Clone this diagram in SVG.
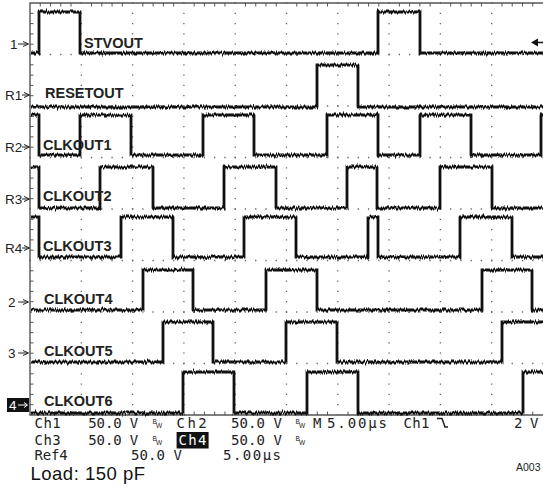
<svg xmlns="http://www.w3.org/2000/svg" width="543" height="494" viewBox="0 0 543 494">
<style>
.border{stroke:#555;stroke-width:1.4;fill:none}
.tick{stroke:#555;stroke-width:1}
.gh{stroke:#666;stroke-width:1.3;stroke-dasharray:1.3 8.96}
.gv{stroke:#666;stroke-width:1.3;stroke-dasharray:1.3 9}
.tr{fill:none;stroke:#111;stroke-width:2.8;stroke-linejoin:miter}
.lbl{font-family:"Liberation Sans",Arial,sans-serif;font-weight:bold;font-size:14.5px;fill:#222}
.mk{font-family:"Liberation Sans",Arial,sans-serif;font-size:13.5px;fill:#222}
.ro{font-family:"DejaVu Sans Mono","Liberation Mono",monospace;font-size:14px;fill:#222}
.bw{font-family:"Liberation Sans",Arial,sans-serif;font-size:6.5px;fill:#222}
.arr{stroke:#222;stroke-width:1;fill:none}
</style>
<defs>
<filter id="noise" x="-2%" y="-5%" width="104%" height="110%" color-interpolation-filters="sRGB">
<feTurbulence type="fractalNoise" baseFrequency="0.9 0.04" numOctaves="2" seed="7" result="t"/>
<feColorMatrix in="t" type="matrix" values="0 0 0 0 0.5  0 1 0 0 0  0 0 0 0 0  0 0 0 0 1" result="m"/>
<feDisplacementMap in="SourceGraphic" in2="m" scale="5" xChannelSelector="R" yChannelSelector="G"/>
</filter>
<marker id="ah" viewBox="0 0 6 6" refX="5" refY="3" markerWidth="6" markerHeight="6" markerUnits="userSpaceOnUse" orient="auto">
<path d="M0,0.5 L5.5,3 L0,5.5" fill="none" stroke="#222" stroke-width="1"/>
</marker>
</defs>
<rect width="543" height="494" fill="#fff"/>
<g id="grid">
<line class="gv" x1="81.3" y1="2.35" x2="81.3" y2="415"/>
<line class="gv" x1="132.6" y1="2.35" x2="132.6" y2="415"/>
<line class="gv" x1="183.9" y1="2.35" x2="183.9" y2="415"/>
<line class="gv" x1="235.2" y1="2.35" x2="235.2" y2="415"/>
<line class="gv" x1="286.5" y1="2.35" x2="286.5" y2="415"/>
<line class="gv" x1="337.8" y1="2.35" x2="337.8" y2="415"/>
<line class="gv" x1="389.1" y1="2.35" x2="389.1" y2="415"/>
<line class="gv" x1="440.4" y1="2.35" x2="440.4" y2="415"/>
<line class="gv" x1="491.7" y1="2.35" x2="491.7" y2="415"/>
<line class="gh" x1="29.35" y1="54.5" x2="543" y2="54.5"/>
<line class="gh" x1="29.35" y1="106" x2="543" y2="106"/>
<line class="gh" x1="29.35" y1="157.5" x2="543" y2="157.5"/>
<line class="gh" x1="29.35" y1="209" x2="543" y2="209"/>
<line class="gh" x1="29.35" y1="260.5" x2="543" y2="260.5"/>
<line class="gh" x1="29.35" y1="312" x2="543" y2="312"/>
<line class="gh" x1="29.35" y1="363.5" x2="543" y2="363.5"/>
<path class="border" d="M543,3 H30 V415 H543"/>
<path class="tick" d="M40.26,3v3.5M50.52,3v3.5M60.78,3v3.5M71.04,3v3.5M91.56,3v3.5M101.82,3v3.5M112.08,3v3.5M122.34,3v3.5M142.86,3v3.5M153.12,3v3.5M163.38,3v3.5M173.64,3v3.5M194.16,3v3.5M204.42,3v3.5M214.68,3v3.5M224.94,3v3.5M245.46,3v3.5M255.72,3v3.5M265.98,3v3.5M276.24,3v3.5M296.76,3v3.5M307.02,3v3.5M317.28,3v3.5M327.54,3v3.5M348.06,3v3.5M358.32,3v3.5M368.58,3v3.5M378.84,3v3.5M399.36,3v3.5M409.62,3v3.5M419.88,3v3.5M430.14,3v3.5M450.66,3v3.5M460.92,3v3.5M471.18,3v3.5M481.44,3v3.5M501.96,3v3.5M512.22,3v3.5M522.48,3v3.5M532.74,3v3.5"/>
<path class="tick" d="M40.26,415v-3.5M50.52,415v-3.5M60.78,415v-3.5M71.04,415v-3.5M91.56,415v-3.5M101.82,415v-3.5M112.08,415v-3.5M122.34,415v-3.5M142.86,415v-3.5M153.12,415v-3.5M163.38,415v-3.5M173.64,415v-3.5M194.16,415v-3.5M204.42,415v-3.5M214.68,415v-3.5M224.94,415v-3.5M245.46,415v-3.5M255.72,415v-3.5M265.98,415v-3.5M276.24,415v-3.5M296.76,415v-3.5M307.02,415v-3.5M317.28,415v-3.5M327.54,415v-3.5M348.06,415v-3.5M358.32,415v-3.5M368.58,415v-3.5M378.84,415v-3.5M399.36,415v-3.5M409.62,415v-3.5M419.88,415v-3.5M430.14,415v-3.5M450.66,415v-3.5M460.92,415v-3.5M471.18,415v-3.5M481.44,415v-3.5M501.96,415v-3.5M512.22,415v-3.5M522.48,415v-3.5M532.74,415v-3.5"/>
<path class="tick" d="M30,13.3h3.5M30,23.6h3.5M30,33.9h3.5M30,44.2h3.5M30,64.8h3.5M30,75.1h3.5M30,85.4h3.5M30,95.7h3.5M30,116.3h3.5M30,126.6h3.5M30,136.9h3.5M30,147.2h3.5M30,167.8h3.5M30,178.1h3.5M30,188.4h3.5M30,198.7h3.5M30,219.3h3.5M30,229.6h3.5M30,239.9h3.5M30,250.2h3.5M30,270.8h3.5M30,281.1h3.5M30,291.4h3.5M30,301.7h3.5M30,322.3h3.5M30,332.6h3.5M30,342.9h3.5M30,353.2h3.5M30,373.8h3.5M30,384.1h3.5M30,394.4h3.5M30,404.7h3.5"/>
</g>
<g id="traces" filter="url(#noise)">
<path id="t-stvout" class="tr" d="M31,53 H39 V12 H80 V53 H378 V12 H420 V53 H543"/>
<path id="t-resetout" class="tr" d="M31,107 H317 V65 H358 V107 H543"/>
<path id="t-clkout1" class="tr" d="M31,115 H39 V155 H80 V115 H131 V155 H203 V115 H254 V155 H327 V115 H378 V155 H420 V115 H471 V155 H541 V115 H543"/>
<path id="t-clkout2" class="tr" d="M31,167 H39 V208 H100 V167 H153 V208 H224 V167 H276 V208 H347 V167 H377 V208 H440 V167 H492 V208 H543"/>
<path id="t-clkout3" class="tr" d="M31,217 H39 V257 H121 V217 H173 V257 H244 V217 H296 V257 H368 V217 H378 V257 H460 V217 H512 V257 H543"/>
<path id="t-clkout4" class="tr" d="M31,310 H143 V270 H193 V310 H266 V270 H317 V310 H482 V270 H532 V310 H543"/>
<path id="t-clkout5" class="tr" d="M31,362 H163 V322 H213 V362 H286 V322 H337 V362 H502 V322 H543"/>
<path id="t-clkout6" class="tr" d="M31,413 H183 V372 H234 V413 H307 V372 H358 V413 H523 V372 H543"/>
</g>
<g id="trigger">
<path d="M531,42.5 L538,38.5 L538,46.5 Z" fill="#111"/>
<line x1="537" y1="42.5" x2="543" y2="42.5" stroke="#111" stroke-width="1.5"/>
</g>
<g id="labels">
<text class="lbl" x="84" y="48">STVOUT</text>
<text class="lbl" x="45" y="98">RESETOUT</text>
<text class="lbl" x="43" y="150">CLKOUT1</text>
<text class="lbl" x="43" y="201">CLKOUT2</text>
<text class="lbl" x="43" y="251">CLKOUT3</text>
<text class="lbl" x="44" y="304">CLKOUT4</text>
<text class="lbl" x="44" y="356">CLKOUT5</text>
<text class="lbl" x="44" y="406">CLKOUT6</text>
</g>
<g id="markers">
<text class="mk" x="10" y="49">1</text>
<line class="arr" x1="18" y1="44" x2="28" y2="44" marker-end="url(#ah)"/>
<text class="mk" x="5" y="100">R1</text>
<line class="arr" x1="22" y1="95" x2="29" y2="95" marker-end="url(#ah)"/>
<text class="mk" x="5" y="152">R2</text>
<line class="arr" x1="22" y1="147" x2="29" y2="147" marker-end="url(#ah)"/>
<text class="mk" x="5" y="204">R3</text>
<line class="arr" x1="22" y1="199" x2="29" y2="199" marker-end="url(#ah)"/>
<text class="mk" x="5" y="253">R4</text>
<line class="arr" x1="22" y1="248" x2="29" y2="248" marker-end="url(#ah)"/>
<text class="mk" x="8" y="307">2</text>
<line class="arr" x1="18" y1="302" x2="28" y2="302" marker-end="url(#ah)"/>
<text class="mk" x="8" y="358">3</text>
<line class="arr" x1="18" y1="353" x2="28" y2="353" marker-end="url(#ah)"/>
<rect x="7" y="398" width="22" height="14" fill="#111"/>
<text class="mk" x="9" y="410" style="fill:#fff">4</text>
<line x1="18" y1="405" x2="27" y2="405" stroke="#fff" stroke-width="1"/>
<path d="M24,402.5 L27.5,405 L24,407.5" fill="none" stroke="#fff" stroke-width="1"/>
</g>
<g id="readout">
<text class="ro" x="34.6" y="428" textLength="26">Ch1</text>
<text class="ro" x="88.3" y="428" textLength="50">50.0 V</text>
<text class="bw" x="152.5" y="424">B</text><text class="bw" x="156" y="428">W</text>
<text class="ro" x="176.6" y="428" textLength="30">Ch2</text>
<text class="ro" x="231" y="428" textLength="51">50.0 V</text>
<text class="bw" x="295.5" y="424">B</text><text class="bw" x="299" y="428">W</text>
<text class="ro" x="313" y="428">M</text>
<text class="ro" x="327" y="428" textLength="60">5.00µs</text>
<text class="ro" x="403.5" y="428" textLength="26">Ch1</text>
<path d="M437,418.5 H442 L445,427 H448" fill="none" stroke="#222" stroke-width="1.5"/>
<text class="ro" x="514" y="428" textLength="24.5">2 V</text>
<text class="ro" x="34.6" y="445" textLength="26">Ch3</text>
<text class="ro" x="88.3" y="445" textLength="50">50.0 V</text>
<text class="bw" x="152.5" y="441">B</text><text class="bw" x="156" y="445">W</text>
<rect x="176.6" y="432" width="32" height="16.5" fill="#111"/>
<text class="ro" x="178.5" y="445" textLength="28" style="fill:#fff">Ch4</text>
<text class="ro" x="231" y="445" textLength="51">50.0 V</text>
<text class="bw" x="295.5" y="441">B</text><text class="bw" x="299" y="445">W</text>
<text class="ro" x="34.6" y="459.6" textLength="33">Ref4</text>
<text class="ro" x="131" y="459.6" textLength="51">50.0 V</text>
<text class="ro" x="223" y="459.6" textLength="58">5.00µs</text>
<text x="516" y="471" style="font-family:'Liberation Sans',Arial,sans-serif;font-size:10.5px;fill:#222">A003</text>
</g>
<text id="caption" x="30.5" y="479.5" style="font-family:'Liberation Sans',Arial,sans-serif;font-size:18.5px;letter-spacing:0.5px;fill:#111">Load: 150 pF</text>
</svg>
